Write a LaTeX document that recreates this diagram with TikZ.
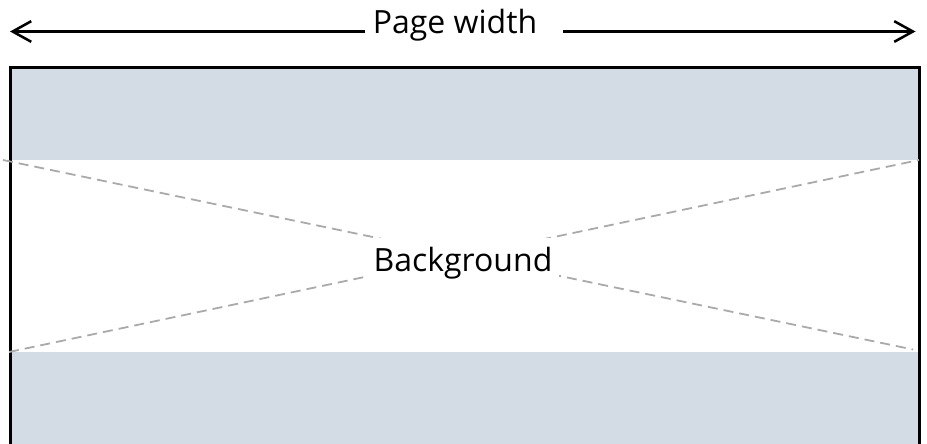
\documentclass[tikz,border=0pt]{standalone}
\usepackage{fontspec}
\setmainfont{Open Sans}
\usetikzlibrary{arrows.meta}
\definecolor{bandgray}{RGB}{211,219,228}
\definecolor{dashgray}{RGB}{170,170,170}
\tikzset{
  dim/.style={line width=1.9pt, -{Straight Barb[length=14pt,width=15.5pt]}},
  frame/.style={line width=1.7pt, black},
  guide/.style={dashgray, line width=1.35pt, dash pattern=on 7.5pt off 4.5pt},
  lbl/.style={font=\fontsize{24}{28}\selectfont, inner sep=0pt}
}
\begin{document}
\begin{tikzpicture}[x=0.75pt,y=-0.75pt]
\useasboundingbox (0,0) rectangle (927,443);
\begin{scope}
\clip (0,0) rectangle (927,443);
% page
\fill[bandgray] (10,67.5) rectangle (920,460);
\fill[white] (10,160) rectangle (919,352);
\draw[frame] (10.5,460) -- (10.5,67.5) -- (919.5,67.5) -- (919.5,460);
\end{scope}
% guides
\coordinate (tl) at (3,160);
\coordinate (br) at (913,349.5);
\coordinate (bl) at (9,352);
\coordinate (tr) at (919,160);
\draw[guide] (tl) -- (br);
\draw[guide] (bl) -- (tr);
\node[lbl, fill=white, minimum width=192*0.75pt, minimum height=46*0.75pt] (bg) at (463,261) {};
\node[lbl, anchor=base] (bgt) at (463,271) {Background};
% dimension
\node[lbl, anchor=base] (pw) at (455,33) {Page width};
\coordinate (gl) at (365,31.5);
\coordinate (gr) at (563,31.5);
\coordinate (el) at (10,31.5);
\coordinate (er) at (915.5,31.5);
\draw[dim] (gl) -- (el);
\draw[dim] (gr) -- (er);
\end{tikzpicture}
\end{document}
